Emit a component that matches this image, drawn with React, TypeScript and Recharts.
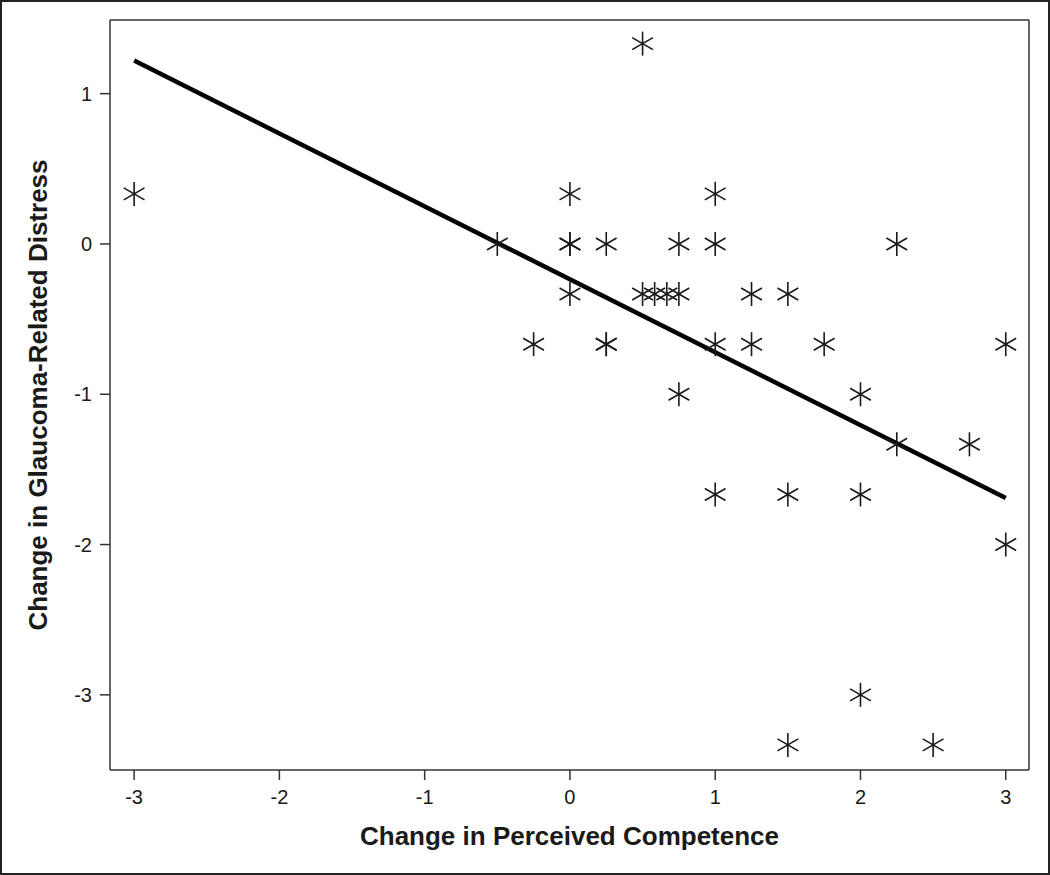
import React from 'react';
import {
  ScatterChart,
  Scatter,
  XAxis,
  YAxis,
  ReferenceLine,
} from 'recharts';

// observed changes (x: perceived competence, y: glaucoma-related distress)
const xValues = [
  -3, -0.5, -0.25, 0, 0, 0, 0, 0.25, 0.25, 0.25, 0.5, 0.5, 0.583, 0.667, 0.75,
  0.75, 0.75, 1, 1, 1, 1, 1.25, 1.25, 1.5, 1.5, 1.5, 1.75, 2, 2, 2, 2.25, 2.25,
  2.5, 2.75, 3, 3,
];
const yValues = [
  0.333, 0, -0.667, 0.333, 0, 0, -0.333, 0, -0.667, -0.667, 1.333, -0.333, -0.333,
  -0.333, -0.333, 0, -1, 0.333, 0, -0.667, -1.667, -0.333, -0.667, -0.333, -1.667,
  -3.333, -0.667, -1, -1.667, -3, 0, -1.333, -3.333, -1.333, -0.667, -2,
];

// fitted regression line end points
const fitX = [-3, 3];
const fitY = [1.22, -1.69];

const xTicks = [-3, -2, -1, 0, 1, 2, 3];
const yTicks = [-3, -2, -1, 0, 1];
const xDomain: [number, number] = [-3.166, 3.16];
const yDomain: [number, number] = [-3.5, 1.49];

const points = xValues.map((x, i) => ({ x, y: yValues[i] }));

const FONT = '"Liberation Sans", Arial, sans-serif';
const INK = '#1a1a1a';

const Asterisk = (props: any) => {
  const { cx, cy } = props;
  if (cx == null || cy == null) return null;
  const r = 12;
  const dx = r * 0.866;
  const dy = r * 0.5;
  return (
    <g stroke={INK} strokeWidth={1.6}>
      <line x1={cx} y1={cy - r} x2={cx} y2={cy + r} />
      <line x1={cx - dx} y1={cy - dy} x2={cx + dx} y2={cy + dy} />
      <line x1={cx - dx} y1={cy + dy} x2={cx + dx} y2={cy - dy} />
    </g>
  );
};

const XTick = ({ x, y, payload }: any) => (
  <text
    x={x}
    y={y + 15}
    textAnchor="middle"
    dominantBaseline="central"
    fontFamily={FONT}
    fontSize={20}
    fill={INK}
  >
    {payload.value}
  </text>
);

const YTick = ({ x, y, payload }: any) => (
  <text
    x={x}
    y={y}
    textAnchor="end"
    dominantBaseline="central"
    fontFamily={FONT}
    fontSize={20}
    fill={INK}
  >
    {payload.value}
  </text>
);

const XLabel = ({ viewBox }: any) => {
  const { x, y, width } = viewBox;
  return (
    <text
      x={x + width / 2}
      y={y + 66}
      textAnchor="middle"
      dominantBaseline="central"
      fontFamily={FONT}
      fontWeight="bold"
      fontSize={26}
      fill={INK}
    >
      Change in Perceived Competence
    </text>
  );
};

const YLabel = ({ viewBox }: any) => {
  const { x, y, height } = viewBox;
  const cx = x + 38;
  const cy = y + height / 2;
  return (
    <text
      x={cx}
      y={cy}
      transform={`rotate(-90 ${cx} ${cy})`}
      textAnchor="middle"
      dominantBaseline="central"
      fontFamily={FONT}
      fontWeight="bold"
      fontSize={26}
      fill={INK}
    >
      Change in Glaucoma-Related Distress
    </text>
  );
};

const axisLine = { stroke: '#333', strokeWidth: 1.5 };

export default function App() {
  return (
    <div
      style={{
        position: 'absolute',
        left: 0,
        top: 0,
        width: 1050,
        height: 875,
        background: '#fff',
        boxShadow: 'inset 0 0 0 2px #222',
      }}
    >
      <ScatterChart
        width={1050}
        height={875}
        margin={{ top: 20, right: 21, left: 0, bottom: 0 }}
      >
        <XAxis
          dataKey="x"
          type="number"
          domain={xDomain}
          ticks={xTicks}
          allowDataOverflow
          height={105}
          tickSize={10}
          tickMargin={2}
          tick={<XTick />}
          axisLine={axisLine}
          tickLine={axisLine}
          label={<XLabel />}
        />
        <YAxis
          dataKey="y"
          type="number"
          domain={yDomain}
          ticks={yTicks}
          allowDataOverflow
          width={110}
          tickSize={10}
          tickMargin={8}
          tick={<YTick />}
          axisLine={axisLine}
          tickLine={axisLine}
          label={<YLabel />}
        />
        {/* plot frame: top and right edges */}
        <ReferenceLine y={yDomain[1]} stroke="#333" strokeWidth={1.5} />
        <ReferenceLine x={xDomain[1]} stroke="#333" strokeWidth={1.5} />
        <ReferenceLine
          segment={[
            { x: fitX[0], y: fitY[0] },
            { x: fitX[1], y: fitY[1] },
          ]}
          stroke="#000"
          strokeWidth={4.5}
        />
        <Scatter data={points} shape={<Asterisk />} isAnimationActive={false} />
      </ScatterChart>
    </div>
  );
}
